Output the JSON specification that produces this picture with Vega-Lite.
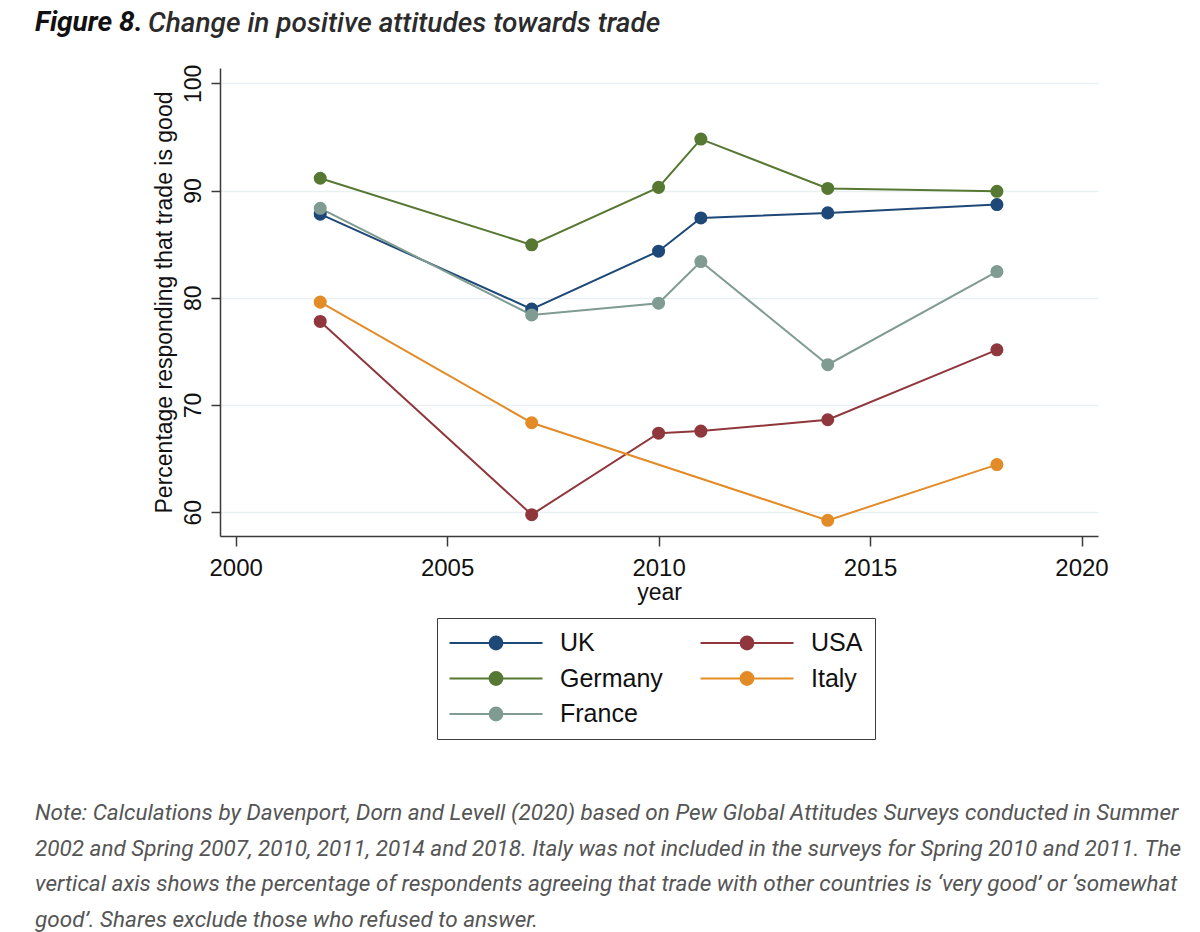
{
  "$schema": "https://vega.github.io/schema/vega-lite/v6.json",
  "background": "white",
  "padding": {"left": 35, "top": 9, "right": 10, "bottom": 6},
  "title": {
    "text": "Change in positive attitudes towards trade",
    "anchor": "start",
    "font": "Roboto",
    "fontSize": 28,
    "fontStyle": "italic",
    "fontWeight": 500,
    "color": "#2b2b2b",
    "offset": 0,
    "dx": 113,
    "dy": 29
  },
  "vconcat": [
    {
      "title": {
        "text": "Figure 8.",
        "anchor": "start",
        "font": "Roboto",
        "fontSize": 28,
        "fontStyle": "italic",
        "fontWeight": "bold",
        "color": "#111",
        "offset": 27
      },
      "vconcat": [
        {
          "title": {
            "text": [
              "Note: Calculations by Davenport, Dorn and Levell (2020) based on Pew Global Attitudes Surveys conducted in Summer",
              "2002 and Spring 2007, 2010, 2011, 2014 and 2018. Italy was not included in the surveys for Spring 2010 and 2011. The",
              "vertical axis shows the percentage of respondents agreeing that trade with other countries is ‘very good’ or ‘somewhat",
              "good’. Shares exclude those who refused to answer."
            ],
            "orient": "bottom",
            "anchor": "start",
            "font": "Roboto",
            "fontSize": 22.5,
            "fontStyle": "italic",
            "fontWeight": "normal",
            "color": "#555555",
            "lineHeight": 35.5,
            "offset": 198,
            "dx": -118
          },
          "vconcat": [
            {
              "width": 878,
              "height": 468,
              "data": {
                "values": [
                  {"country": "UK", "year": 2002, "pct": 87.8},
                  {"country": "UK", "year": 2007, "pct": 78.95},
                  {"country": "UK", "year": 2010, "pct": 84.35},
                  {"country": "UK", "year": 2011, "pct": 87.45},
                  {"country": "UK", "year": 2014, "pct": 87.92},
                  {"country": "UK", "year": 2018, "pct": 88.7},
                  {"country": "Germany", "year": 2002, "pct": 91.15},
                  {"country": "Germany", "year": 2007, "pct": 84.94},
                  {"country": "Germany", "year": 2010, "pct": 90.3},
                  {"country": "Germany", "year": 2011, "pct": 94.8},
                  {"country": "Germany", "year": 2014, "pct": 90.2},
                  {"country": "Germany", "year": 2018, "pct": 89.93},
                  {"country": "France", "year": 2002, "pct": 88.35},
                  {"country": "France", "year": 2007, "pct": 78.4},
                  {"country": "France", "year": 2010, "pct": 79.5},
                  {"country": "France", "year": 2011, "pct": 83.38},
                  {"country": "France", "year": 2014, "pct": 73.76},
                  {"country": "France", "year": 2018, "pct": 82.45},
                  {"country": "USA", "year": 2002, "pct": 77.8},
                  {"country": "USA", "year": 2007, "pct": 59.78},
                  {"country": "USA", "year": 2010, "pct": 67.38},
                  {"country": "USA", "year": 2011, "pct": 67.57},
                  {"country": "USA", "year": 2014, "pct": 68.63},
                  {"country": "USA", "year": 2018, "pct": 75.15},
                  {"country": "Italy", "year": 2002, "pct": 79.6},
                  {"country": "Italy", "year": 2007, "pct": 68.35},
                  {"country": "Italy", "year": 2014, "pct": 59.25},
                  {"country": "Italy", "year": 2018, "pct": 64.45}
                ]
              },
              "encoding": {
                "x": {
                  "field": "year",
                  "type": "quantitative",
                  "scale": {"domain": [1999.63, 2020.39], "nice": false, "zero": false},
                  "axis": {
                    "values": [2000, 2005, 2010, 2015, 2020],
                    "format": "d",
                    "title": "year",
                    "grid": false,
                    "tickSize": 10,
                    "labelPadding": 10,
                    "labelFontSize": 24,
                    "labelFlush": false,
                    "labelOverlap": false,
                    "titlePadding": 1
                  }
                },
                "y": {
                  "field": "pct",
                  "type": "quantitative",
                  "scale": {"domain": [57.79, 101.43], "nice": false, "zero": false},
                  "axis": {
                    "values": [60, 70, 80, 90, 100],
                    "title": "Percentage responding that trade is good",
                    "grid": true,
                    "gridColor": "#e8f0f1",
                    "gridWidth": 1.5,
                    "tickSize": 9,
                    "labelAngle": -90,
                    "labelAlign": "center",
                    "labelBaseline": "bottom",
                    "labelPadding": 6,
                    "labelFontSize": 23,
                    "titlePadding": 6
                  }
                },
                "color": {
                  "field": "country",
                  "type": "nominal",
                  "scale": {
                    "domain": ["UK", "USA", "Germany", "Italy", "France"],
                    "range": ["#1d4877", "#8f373c", "#577833", "#e38b27", "#7f9b92"]
                  },
                  "legend": {
                    "title": null,
                    "orient": "none",
                    "direction": "horizontal",
                    "legendX": 217,
                    "legendY": 550,
                    "columns": 2,
                    "symbolType": "M-4,0H4M-0.55,0A0.55,0.55,0,1,0,0.55,0A0.55,0.55,0,1,0,-0.55,0Z",
                    "symbolSize": 540,
                    "symbolStrokeWidth": 2,
                    "symbolOpacity": 1,
                    "symbolOffset": 34,
                    "labelFontSize": 25,
                    "labelOffset": 51,
                    "columnPadding": 33,
                    "rowPadding": 9.5,
                    "padding": 12,
                    "strokeColor": "#3c3c3c",
                    "encode": {
                      "symbols": {
                        "update": {
                          "fill": {"scale": "color", "field": "value"},
                          "stroke": {"scale": "color", "field": "value"}
                        }
                      }
                    }
                  }
                }
              },
              "layer": [
                {"mark": {"type": "line", "strokeWidth": 2}},
                {"mark": {"type": "circle", "size": 170, "opacity": 1}}
              ]
            }
          ]
        }
      ]
    }
  ],
  "config": {
    "font": "Liberation Sans",
    "view": {"stroke": null},
    "axis": {
      "domainColor": "#3a3a3a",
      "domainWidth": 1.5,
      "tickColor": "#3a3a3a",
      "tickWidth": 1.5,
      "labelColor": "#111",
      "titleColor": "#111",
      "titleFontSize": 23,
      "titleFontWeight": "normal",
      "labelFont": "Liberation Sans",
      "titleFont": "Liberation Sans"
    },
    "legend": {
      "labelColor": "#111",
      "labelFont": "Liberation Sans"
    }
  }
}
